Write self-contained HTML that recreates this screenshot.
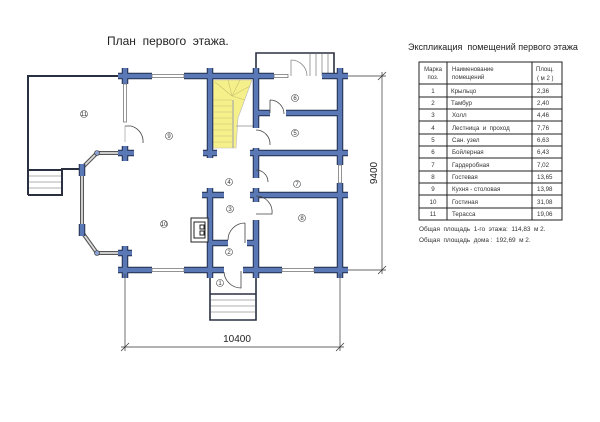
<!DOCTYPE html>
<html><head><meta charset="utf-8"><style>
html,body{margin:0;padding:0;background:#fff;width:600px;height:422px;overflow:hidden}
svg{display:block;font-family:"Liberation Sans",sans-serif}
text{white-space:pre}
</style></head><body>
<svg width="600" height="422" viewBox="0 0 600 422" xmlns="http://www.w3.org/2000/svg">
<defs>
<g id="W" stroke-linecap="butt" fill="none">
  <line x1="118" y1="76" x2="152" y2="76"/>
  <line x1="184" y1="76" x2="256" y2="76"/>
  <line x1="256" y1="76" x2="274" y2="76"/>
  <line x1="322" y1="76" x2="348" y2="76"/>
  <line x1="118" y1="270" x2="152" y2="270"/>
  <line x1="184" y1="270" x2="224" y2="270"/>
  <line x1="243" y1="270" x2="282" y2="270"/>
  <line x1="314" y1="270" x2="348" y2="270"/>
  <line x1="125" y1="68" x2="125" y2="84"/>
  <line x1="125" y1="146" x2="125" y2="161"/>
  <line x1="118" y1="153" x2="134" y2="153"/>
  <line x1="125" y1="246" x2="125" y2="278"/>
  <line x1="118" y1="253" x2="132" y2="253"/>
  <line x1="210" y1="68" x2="210" y2="158"/>
  <line x1="203" y1="153" x2="217" y2="153"/>
  <line x1="256" y1="68" x2="256" y2="128"/>
  <line x1="256" y1="113" x2="270" y2="113"/>
  <line x1="256" y1="148" x2="256" y2="178"/>
  <line x1="250" y1="153" x2="348" y2="153"/>
  <line x1="256" y1="188" x2="256" y2="202"/>
  <line x1="250" y1="195" x2="348" y2="195"/>
  <line x1="256" y1="220" x2="256" y2="278"/>
  <line x1="286" y1="113" x2="338" y2="113"/>
  <line x1="340" y1="68" x2="340" y2="165"/>
  <line x1="340" y1="183" x2="340" y2="278"/>
  <line x1="210" y1="188" x2="210" y2="278"/>
  <line x1="202" y1="195" x2="224" y2="195"/>
  <line x1="210" y1="243" x2="228" y2="243"/>
  <line x1="247" y1="243" x2="256" y2="243"/>
  <line x1="82" y1="164" x2="82" y2="176"/>
  <line x1="82" y1="224" x2="82" y2="236"/>
</g>
</defs>
<rect width="600" height="422" fill="#fff"/>
<text x="107" y="45" font-size="12" fill="#222">План  первого  этажа.</text>

<g stroke="#2a3040" stroke-width="2" fill="none">
  <polyline points="28,195 28,76 120,76"/>
  <polyline points="28,195 62,195 62,169 80,169"/>
  <line x1="28" y1="170" x2="62" y2="170"/>
</g>
<g stroke="#999" stroke-width="0.8">
  <line x1="29" y1="176" x2="61" y2="176"/><line x1="29" y1="182" x2="61" y2="182"/><line x1="29" y1="188" x2="61" y2="188"/>
</g>
<g stroke="#2a3040" stroke-width="1.6" fill="none">
  <polyline points="256,74 256,53 334,53 334,76"/>
</g>
<g stroke="#888" stroke-width="0.8">
  <line x1="310" y1="54" x2="310" y2="76"/><line x1="316" y1="54" x2="316" y2="76"/><line x1="322" y1="54" x2="322" y2="76"/><line x1="328" y1="54" x2="328" y2="76"/>
  <line x1="291" y1="60" x2="291" y2="76"/>
  <path d="M291,60 A16,16 0 0 1 307,76" fill="none"/>
</g>
<g stroke="#2a3040" stroke-width="1.6" fill="none">
  <polyline points="210,270 210,320 256,320 256,270"/>
  <line x1="210" y1="294" x2="256" y2="294"/>
</g>
<g stroke="#999" stroke-width="0.8">
  <line x1="211" y1="300" x2="255" y2="300"/><line x1="211" y1="306" x2="255" y2="306"/><line x1="211" y1="312" x2="255" y2="312"/>
</g>

<polygon points="213,80 252,80 238,118 236,148 213,148" fill="#f6f08a" stroke="#bbb" stroke-width="0.6"/>
<g stroke="#c8c070" stroke-width="0.6">
  <line x1="213" y1="100" x2="232" y2="100"/><line x1="213" y1="106" x2="232" y2="106"/><line x1="213" y1="112" x2="232" y2="112"/><line x1="213" y1="118" x2="232" y2="118"/><line x1="213" y1="124" x2="232" y2="124"/><line x1="213" y1="130" x2="232" y2="130"/><line x1="213" y1="136" x2="232" y2="136"/><line x1="213" y1="142" x2="232" y2="142"/>
  <line x1="232" y1="96" x2="215" y2="82"/><line x1="232" y1="96" x2="228" y2="80"/><line x1="232" y1="96" x2="240" y2="80"/><line x1="232" y1="96" x2="250" y2="86"/><line x1="232" y1="96" x2="245" y2="100"/>
</g>
<line x1="233" y1="100" x2="233" y2="148" stroke="#aaa" stroke-width="1.2"/>
<line x1="236" y1="126" x2="256" y2="126" stroke="#aaa" stroke-width="1"/>

<g stroke="#555" stroke-width="4" fill="none"><polyline points="120,153 97,153 82,168 82,232 97,253 120,253"/></g>
<g stroke="#ddd" stroke-width="1.8" fill="none"><polyline points="120,153 97,153 82,168 82,232 97,253 120,253"/></g>
<g fill="#8aa0d0" stroke="#333" stroke-width="0.6"><circle cx="97" cy="153" r="2.5"/><circle cx="97" cy="253" r="2.5"/></g>

<use href="#W" stroke="#1f2a48" stroke-width="6.5"/>
<use href="#W" stroke="#5b78b6" stroke-width="4.5"/>

<g fill="#fff" stroke="#666" stroke-width="0.7">
  <rect x="152" y="74.5" width="32" height="3"/>
  <rect x="274" y="74.5" width="14" height="3"/>
  <rect x="152" y="268.5" width="32" height="3"/>
  <rect x="282" y="268.5" width="32" height="3"/>
  <rect x="338.5" y="165" width="3" height="18"/>
  <rect x="123.5" y="84" width="3" height="38"/>
</g>
<g stroke="#444" stroke-width="0.8" fill="none">
  <line x1="125" y1="126" x2="125" y2="142" stroke="#aaa"/>
  <path d="M125,126 L131,126 A16,16 0 0 1 143,143"/>
  <path d="M270,100 L270,113 M270,100 A14,14 0 0 1 284,114"/>
  <path d="M256,130 A14,14 0 0 1 270,145"/>
  <path d="M256,170 A12,12 0 0 1 268,182"/>
  <path d="M256,196 A16,16 0 0 1 272,214 L256,214"/>
  <path d="M245,223 L245,243 M245,223 A17,17 0 0 0 228,240"/>
  <path d="M241,271 L241,288 A17,17 0 0 1 224,272"/>
</g>
<g stroke="#222" stroke-width="1" fill="#fff">
  <rect x="191" y="218" width="17" height="24"/>
  <polygon points="194,222 205,222 205,238 194,238" fill="none"/>
  <rect x="200" y="225" width="4" height="4"/><rect x="200" y="231" width="4" height="4"/>
</g>

<g font-size="6" fill="#333" text-anchor="middle">
  <g fill="none" stroke="#444" stroke-width="0.6">
    <circle cx="84" cy="114" r="3.5"/><circle cx="169" cy="136" r="3.5"/><circle cx="295" cy="98" r="3.5"/><circle cx="295" cy="133" r="3.5"/>
    <circle cx="229" cy="182" r="3.5"/><circle cx="297" cy="184" r="3.5"/><circle cx="230" cy="209" r="3.5"/><circle cx="302" cy="218" r="3.5"/>
    <circle cx="164" cy="224" r="3.5"/><circle cx="229" cy="252" r="3.5"/><circle cx="220" cy="283" r="3.5"/>
  </g>
  <text x="84" y="116">11</text><text x="169" y="138">9</text><text x="295" y="100">6</text><text x="295" y="135">5</text>
  <text x="229" y="184">4</text><text x="297" y="186">7</text><text x="230" y="211">3</text><text x="302" y="220">8</text>
  <text x="164" y="226">10</text><text x="229" y="254">2</text><text x="220" y="285">1</text>
</g>

<g stroke="#333" stroke-width="0.7">
  <line x1="348" y1="76" x2="386" y2="76"/><line x1="348" y1="270" x2="386" y2="270"/>
  <line x1="382" y1="72" x2="382" y2="274"/>
  <line x1="378" y1="80" x2="386" y2="72"/><line x1="378" y1="274" x2="386" y2="266"/>
  <line x1="125" y1="274" x2="125" y2="351"/><line x1="340" y1="274" x2="340" y2="351"/>
  <line x1="121" y1="347" x2="344" y2="347"/>
  <line x1="121" y1="351" x2="129" y2="343"/><line x1="336" y1="351" x2="344" y2="343"/>
</g>
<text x="237" y="342" font-size="10" text-anchor="middle" fill="#222">10400</text>
<text transform="translate(377,173) rotate(-90)" font-size="10" text-anchor="middle" fill="#222">9400</text>

<text x="408" y="50" font-size="9" fill="#222">Экспликация  помещений первого этажа</text>
<g stroke="#222" stroke-width="1" fill="none">
  <rect x="419" y="62" width="143" height="158"/>
  <line x1="447" y1="62" x2="447" y2="220"/><line x1="532" y1="62" x2="532" y2="220"/>
  <line x1="419" y1="84" x2="562" y2="84"/><line x1="419" y1="97" x2="562" y2="97"/><line x1="419" y1="109" x2="562" y2="109"/><line x1="419" y1="121" x2="562" y2="121"/><line x1="419" y1="134" x2="562" y2="134"/><line x1="419" y1="146" x2="562" y2="146"/><line x1="419" y1="158" x2="562" y2="158"/><line x1="419" y1="171" x2="562" y2="171"/><line x1="419" y1="183" x2="562" y2="183"/><line x1="419" y1="195" x2="562" y2="195"/><line x1="419" y1="208" x2="562" y2="208"/>
</g>
<g font-size="6" fill="#333">
  <text x="433" y="71" text-anchor="middle">Марка</text><text x="433" y="79" text-anchor="middle">поз.</text>
  <text x="452" y="71">Наименование</text><text x="452" y="79">помещений</text>
  <text x="536" y="71">Площ.</text><text x="537" y="80">( м 2 )</text>
</g>
<g font-size="6.2" fill="#333">
  <g text-anchor="middle"><text x="433" y="93">1</text><text x="433" y="105">2</text><text x="433" y="117">3</text><text x="433" y="130">4</text><text x="433" y="142">5</text><text x="433" y="154">6</text><text x="433" y="167">7</text><text x="433" y="179">8</text><text x="433" y="191">9</text><text x="433" y="204">10</text><text x="433" y="216">11</text></g>
  <text x="451" y="93">Крыльцо</text><text x="451" y="105">Тамбур</text><text x="452" y="117">Холл</text><text x="452" y="130">Лестница  и  проход</text><text x="452" y="142">Сан. узел</text><text x="452" y="154">Бойлерная</text><text x="452" y="167">Гардеробная</text><text x="452" y="179">Гостевая</text><text x="452" y="191">Кухня - столовая</text><text x="452" y="204">Гостиная</text><text x="452" y="216">Терасса</text>
  <text x="537" y="93">2,36</text><text x="537" y="105">2,40</text><text x="537" y="117">4,46</text><text x="537" y="130">7,76</text><text x="537" y="142">6,63</text><text x="537" y="154">6,43</text><text x="537" y="167">7,02</text><text x="537" y="179">13,65</text><text x="537" y="191">13,98</text><text x="537" y="204">31,08</text><text x="537" y="216">19,06</text>
</g>
<text x="419" y="231" font-size="6.4" fill="#333">Общая  площадь  1-го  этажа:  114,83  м 2.</text>
<text x="419" y="242" font-size="6.4" fill="#333">Общая  площадь  дома :  192,69  м 2.</text>
</svg>
</body></html>
